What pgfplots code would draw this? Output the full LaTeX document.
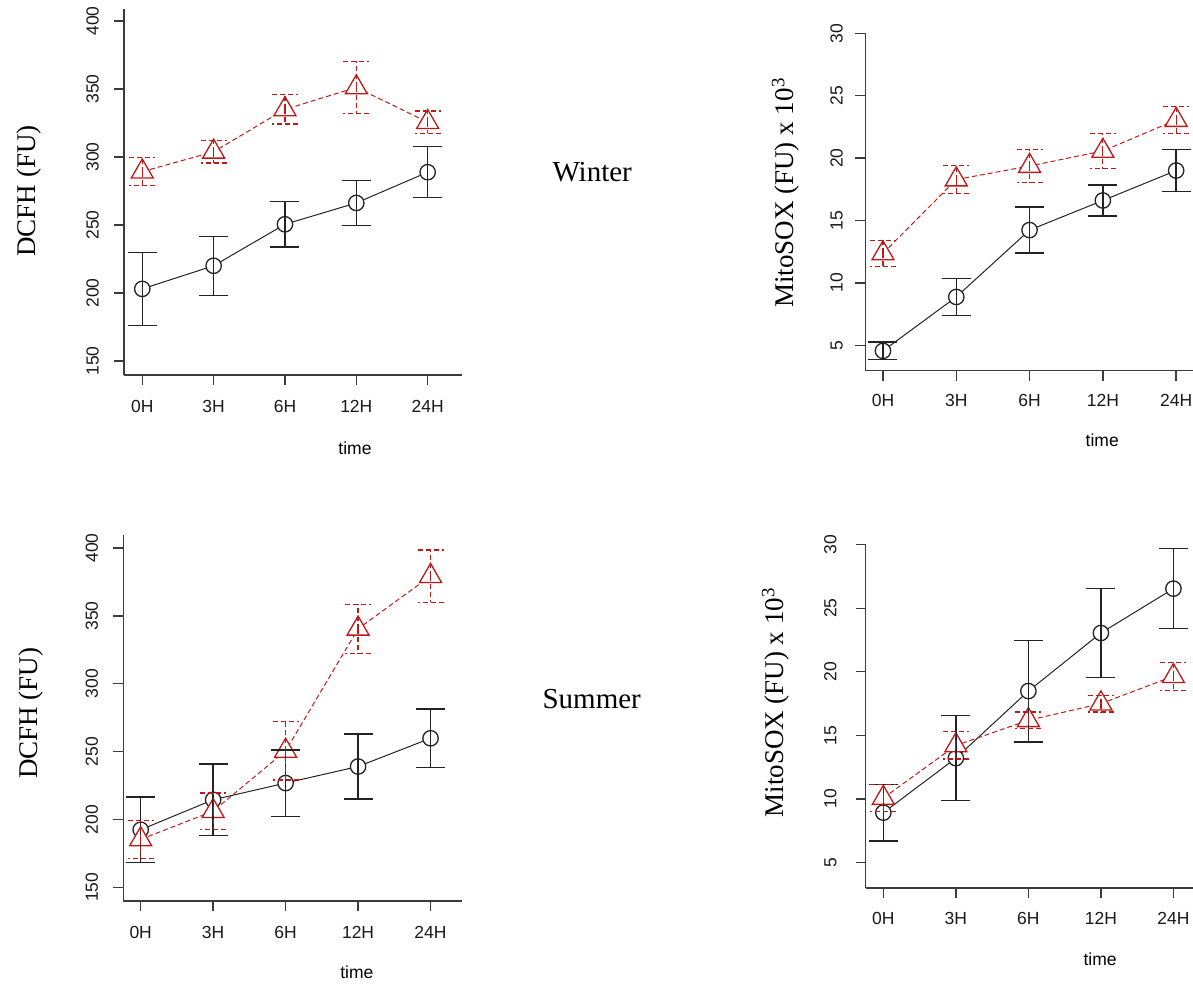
\documentclass[border=0pt]{standalone}
\usepackage{fontspec}
\setmainfont{Liberation Serif}
\newfontfamily\arial{Liberation Sans}
\usepackage{pgfplots}
\usepackage{pgfplotstable}
\pgfplotsset{compat=1.18}

\definecolor{rred}{RGB}{190,25,25}
\definecolor{axgray}{RGB}{60,60,60}
\definecolor{blk}{RGB}{35,35,35}

% x, mean, error (x = 1..5 for 0H..24H)
\pgfplotstableread{
x y e
1 203.0 26.7
2 220.0 21.7
3 250.5 16.7
4 266.2 16.7
5 288.8 18.7
}\wdcfhc
\pgfplotstableread{
x y e
1 289.2 10.3
2 303.8 8.2
3 335.0 10.8
4 351.1 19.3
5 325.6 8.2
}\wdcfht
\pgfplotstableread{
x y e
1 4.55 0.70
2 8.87 1.49
3 14.23 1.85
4 16.60 1.23
5 19.00 1.67
}\wmitoc
\pgfplotstableread{
x y e
1 12.36 1.05
2 18.28 1.10
3 19.36 1.30
4 20.57 1.43
5 23.05 1.10
}\wmitot
\pgfplotstableread{
x y e
1 192.4 24.1
2 214.5 26.4
3 226.8 24.5
4 239.0 24.0
5 259.8 21.6
}\sdcfhc
\pgfplotstableread{
x y e
1 185.3 13.9
2 206.1 13.4
3 250.5 21.5
4 340.5 18.0
5 379.3 19.3
}\sdcfht
\pgfplotstableread{
x y e
1 8.91 2.23
2 13.20 3.35
3 18.48 4.00
4 23.05 3.50
5 26.54 3.15
}\smitoc
\pgfplotstableread{
x y e
1 10.06 1.08
2 14.20 1.07
3 16.18 0.65
4 17.49 0.66
5 19.65 1.10
}\smitot

\pgfplotsset{
 rpanel/.style={
  scale only axis, axis x line=bottom, axis y line=left,
  clip mode=individual,
  axis line style={-, axgray, line width=1.4pt},
  tick align=outside, major tick length=10pt,
  tick style={axgray, line width=1.4pt},
  xtick={1,...,5}, xticklabels={0H,3H,6H,12H,24H},
  ticklabel style={font=\arial\fontsize{17.5}{20}\selectfont, inner sep=0pt, text=black!90},
  xticklabel style={anchor=north},
  yticklabel style={rotate=90, anchor=south},
  /pgf/number format/assume math mode=true,
  xlabel={time},
  xlabel style={font=\arial\fontsize{17.5}{20}\selectfont, anchor=center},
  ylabel style={font=\fontsize{27}{30}\selectfont, anchor=base},
 },
 cline/.style={blk, line width=1pt, mark=*, mark size=7.7pt,
  mark options={fill=white, draw=blk, line width=1.3pt}},
 tline/.style={rred, line width=1pt, dash pattern=on 5pt off 3pt, mark=triangle*, mark size=12.7pt,
  mark options={fill=white, draw=rred, solid, line width=1.3pt}},
 cerr/.style={draw=none, mark=none, forget plot,
  error bars/.cd, y dir=both, y explicit, error mark=-,
  error bar style={draw=blk, solid, line width=1.4pt},
  error mark options={rotate=90, draw=blk, solid, mark size=14.5pt, line width=1.4pt}},
 terr/.style={draw=none, mark=none, forget plot,
  error bars/.cd, y dir=both, y explicit, error mark=-,
  error bar style={draw=rred, line width=1.2pt, dash pattern=on 5pt off 3pt},
  error mark options={rotate=90, draw=rred, mark size=13pt, line width=1.2pt, dash pattern=on 5pt off 3pt}},
}

\begin{document}
\begin{tikzpicture}
\useasboundingbox (0,0) rectangle (1193pt,984pt);

% Winter, DCFH
\begin{axis}[rpanel, at={(124pt,609pt)}, anchor=south west,
 width=337.7pt, height=366pt, xmin=0.744, xmax=5.477, ymin=139.7, ymax=408.8,
 ytick={150,200,...,400}, xticklabel shift=14.7pt, yticklabel shift=15pt,
 ylabel={DCFH (FU)}, ylabel style={at={(axis description cs:-0.2635,0.503)}},
 xlabel style={at={(axis description cs:0.684,-0.1995)}}]
\addplot[cline] table[x=x,y=y] {\wdcfhc};
\addplot[tline] table[x=x,y=y] {\wdcfht};
\addplot[cerr] table[x=x,y=y,y error=e] {\wdcfhc};
\addplot[terr] table[x=x,y=y,y error=e] {\wdcfht};
\end{axis}

% Winter, MitoSOX
\begin{axis}[rpanel, at={(865.3pt,613.3pt)}, anchor=south west,
 width=327.7pt, height=337.4pt, xmin=0.759, xmax=5.23, ymin=2.96, ymax=30,
 ytick={5,10,...,30}, xticklabel shift=13pt, yticklabel shift=12.3pt,
 ylabel={MitoSOX (FU) x 10\textsuperscript{3}}, ylabel style={at={(axis description cs:-0.2197,0.527)}},
 xlabel style={at={(axis description cs:0.723,-0.2075)}}]
\addplot[cline] table[x=x,y=y] {\wmitoc};
\addplot[tline] table[x=x,y=y] {\wmitot};
\addplot[cerr] table[x=x,y=y,y error=e] {\wmitoc};
\addplot[terr] table[x=x,y=y,y error=e] {\wmitot};
\end{axis}

% Summer, DCFH
\begin{axis}[rpanel, at={(123.3pt,83pt)}, anchor=south west,
 width=338.4pt, height=366pt, xmin=0.76, xmax=5.43, ymin=139.9, ymax=409.6,
 ytick={150,200,...,400}, xticklabel shift=15pt, yticklabel shift=15pt,
 ylabel={DCFH (FU)}, ylabel style={at={(axis description cs:-0.255,0.513)}},
 xlabel style={at={(axis description cs:0.69,-0.196)}}]
\addplot[cline] table[x=x,y=y] {\sdcfhc};
\addplot[tline] table[x=x,y=y] {\sdcfht};
\addplot[cerr] table[x=x,y=y,y error=e] {\sdcfhc};
\addplot[terr] table[x=x,y=y,y error=e] {\sdcfht};
\end{axis}

% Summer, MitoSOX
\begin{axis}[rpanel, at={(865.7pt,96pt)}, anchor=south west,
 width=327.3pt, height=343.3pt, xmin=0.757, xmax=5.27, ymin=2.98, ymax=30,
 ytick={5,10,...,30}, xticklabel shift=14pt, yticklabel shift=19pt,
 ylabel={MitoSOX (FU) x 10\textsuperscript{3}}, ylabel style={at={(axis description cs:-0.2518,0.540)}},
 xlabel style={at={(axis description cs:0.716,-0.2077)}}]
\addplot[cline] table[x=x,y=y] {\smitoc};
\addplot[tline] table[x=x,y=y] {\smitot};
\addplot[cerr] table[x=x,y=y,y error=e] {\smitoc};
\addplot[terr] table[x=x,y=y,y error=e] {\smitot};
\end{axis}

\node[font=\fontsize{29}{32}\selectfont, anchor=base] at (592.2pt,802.3pt) {Winter};
\node[font=\fontsize{29}{32}\selectfont, anchor=base] at (591.7pt,275.7pt) {Summer};
\end{tikzpicture}
\end{document}
